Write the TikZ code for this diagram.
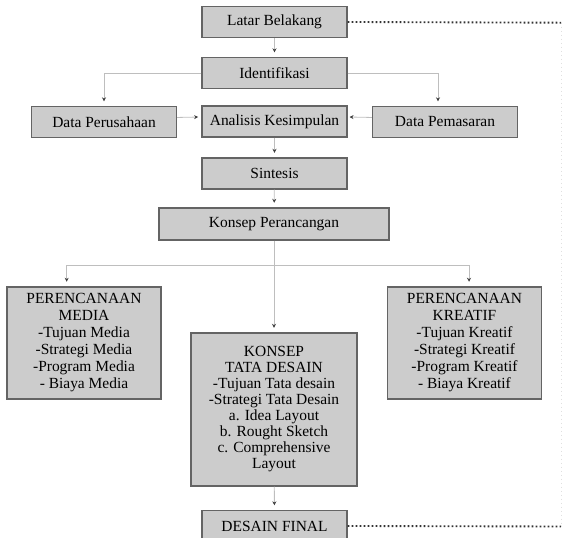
\documentclass[tikz,border=0pt]{standalone}
\usepackage{fontspec}
\setmainfont{Liberation Serif}
\usetikzlibrary{arrows.meta,positioning}
\definecolor{boxgray}{RGB}{204,204,204}
\definecolor{edgegray}{RGB}{100,100,100}
\definecolor{linkgray}{RGB}{190,190,190}

\begin{document}
\begin{tikzpicture}[
    x=0.75pt, y=-0.75pt,
    stage/.style={draw=edgegray, line width=0.8pt, fill=boxgray, align=center,
        inner sep=1pt, minimum width=108.75pt, minimum height=23.25pt,
        font=\fontsize{11.6}{12}\selectfont},
    plan/.style={stage, minimum width=115.5pt, minimum height=84pt,
        font=\fontsize{11.6}{12.75}\selectfont},
    link/.style={draw=linkgray, line width=0.6pt,
        -{Stealth[length=3pt,width=3pt,color=black!75]}, shorten >=3.5pt},
    loopline/.style={draw=black!80, line width=1.4pt, dash pattern=on 1.4pt off 1.6pt},
    >=Stealth
]
\useasboundingbox (0,0) rectangle (562,538);

\node[stage] (latar) at (274.5,22) {Latar Belakang};
\node[stage] (identifikasi) at (274.5,73) {Identifikasi};
\node[stage] (perusahaan) at (104,122) {Data Perusahaan};
\node[stage] (analisis) at (274.5,121.5) {Analisis Kesimpulan};
\node[stage] (pemasaran) at (445,122) {Data Pemasaran};
\node[stage] (sintesis) at (274.5,173.5) {Sintesis};
\node[stage, minimum width=172.5pt, minimum height=24pt] (konsep) at (274,224) {Konsep Perancangan};

\node[plan] (media) at (84,343) {PERENCANAAN\\MEDIA\\-Tujuan Media\\-Strategi Media\\-Program Media\\- Biaya Media};
\node[plan] (kreatif) at (464.5,343) {PERENCANAAN\\KREATIF\\-Tujuan Kreatif\\-Strategi Kreatif\\-Program Kreatif\\- Biaya Kreatif};
\node[plan, minimum width=124.5pt, minimum height=114.75pt, font=\fontsize{11.6}{12}\selectfont] (tata) at (274,409.5)
    {KONSEP\\TATA DESAIN\\-Tujuan Tata desain\\-Strategi Tata Desain\\a. Idea Layout\\b. Rought Sketch\\c. Comprehensive\\Layout};
\node[stage] (final) at (274.5,526) {DESAIN FINAL};

% alur utama
\draw[link] (latar) -- (identifikasi);
\draw[link] (identifikasi.west) -| (perusahaan.north);
\draw[link] (identifikasi.east) -| ([xshift=-5.25pt]pemasaran.north);
\draw[link, shorten >=2.5pt] ([yshift=3.4pt]perusahaan.east) -- ([yshift=3.4pt]analisis.west);
\draw[link, shorten >=1.5pt] ([yshift=3.4pt]pemasaran.west) -- ([yshift=3.4pt]analisis.east);
\draw[link] (analisis) -- (sintesis);
\draw[link] (sintesis) -- (konsep);

\coordinate (fork) at (274,265.7);
\draw[link] (konsep) -- (tata);
\draw[link] (fork) -| ([xshift=-13pt]media.north);
\draw[link] (fork) -| ([xshift=3.4pt]kreatif.north);
\draw[link] (tata) -- (final);

% umpan balik
\coordinate (loopTop) at (561,22.7);
\coordinate (loopBot) at (561,526.5);
\draw[loopline] (latar.east) -- (loopTop);
\draw[loopline] (final.east) -- (loopBot);
\draw[draw=black!12, line width=0.6pt, dash pattern=on 1pt off 2pt] (loopTop) -- (loopBot);
\end{tikzpicture}
\end{document}
